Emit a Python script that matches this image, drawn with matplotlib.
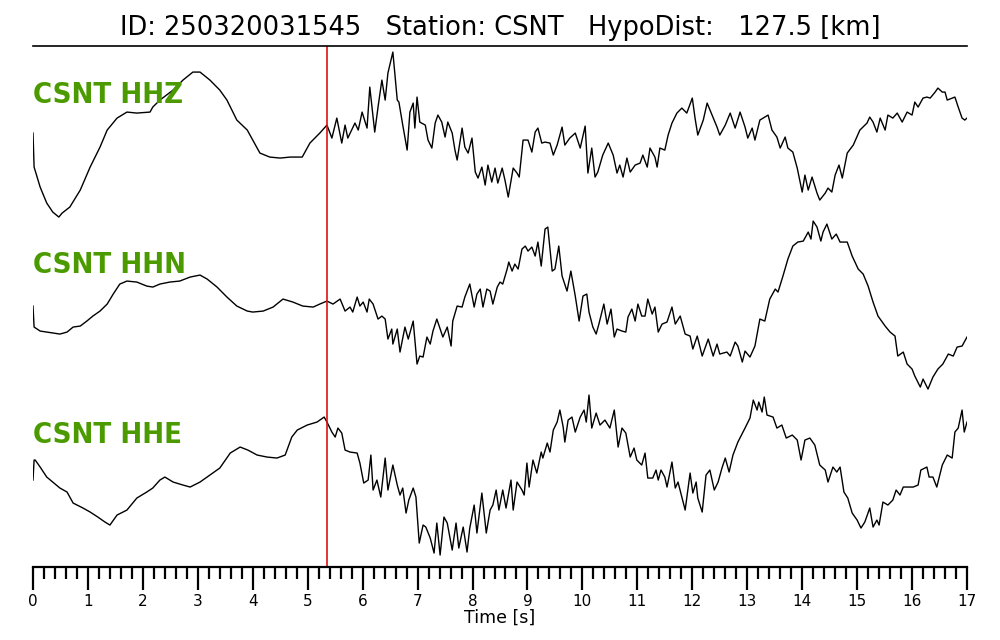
"""Plot three-component waveform of station CSNT with P pick."""

import matplotlib
matplotlib.use("Agg")
import matplotlib.pyplot as plt
from matplotlib.ticker import MultipleLocator

event_id = "250320031545"
station = "CSNT"
hypo_dist = 127.5
p_pick = 5.35  # seconds
channels = ["HHZ", "HHN", "HHE"]

# HHZ trace (time [s], amplitude [arb. units])
z_time = [0.00, 0.02, 0.13, 0.25, 0.36, 0.47, 0.53, 0.67, 0.86, 1.04, 1.22, 1.35, 1.53, 1.71,
          1.89, 2.13, 2.18, 2.31, 2.55, 2.73, 2.91, 3.04, 3.22, 3.40, 3.53, 3.71, 3.90, 4.00,
          4.13, 4.31, 4.50, 4.68, 4.90, 5.04, 5.22, 5.35, 5.44, 5.53, 5.62, 5.68, 5.73, 5.86,
          5.92, 5.99, 6.08, 6.13, 6.22, 6.28, 6.35, 6.41, 6.46, 6.55, 6.63, 6.66, 6.73, 6.81,
          6.86, 6.92, 6.95, 6.99, 7.04, 7.14, 7.19, 7.26, 7.32, 7.37, 7.44, 7.50, 7.55, 7.63,
          7.68, 7.72, 7.81, 7.86, 7.92, 7.99, 8.05, 8.10, 8.17, 8.23, 8.28, 8.35, 8.41, 8.46,
          8.54, 8.59, 8.65, 8.74, 8.81, 8.85, 8.92, 9.01, 9.08, 9.14, 9.19, 9.26, 9.32, 9.41,
          9.47, 9.54, 9.63, 9.68, 9.77, 9.87, 9.96, 10.05, 10.10, 10.17, 10.23, 10.28, 10.37,
          10.47, 10.56, 10.63, 10.68, 10.74, 10.81, 10.87, 10.96, 11.05, 11.10, 11.18, 11.23,
          11.32, 11.36, 11.41, 11.50, 11.56, 11.63, 11.72, 11.81, 11.90, 12.00, 12.05, 12.10,
          12.20, 12.27, 12.36, 12.45, 12.50, 12.60, 12.69, 12.78, 12.87, 12.96, 13.01, 13.09,
          13.14, 13.23, 13.32, 13.38, 13.45, 13.54, 13.60, 13.69, 13.74, 13.83, 13.91, 14.00,
          14.05, 14.11, 14.18, 14.27, 14.32, 14.42, 14.47, 14.54, 14.60, 14.67, 14.73, 14.82,
          14.93, 15.05, 15.18, 15.23, 15.29, 15.36, 15.42, 15.51, 15.56, 15.65, 15.73, 15.82,
          15.91, 16.00, 16.05, 16.11, 16.20, 16.27, 16.33, 16.42, 16.47, 16.55, 16.60, 16.64,
          16.73, 16.78, 16.84, 16.91, 16.96, 17.00]
z_amp = [2, -32, -52, -68, -77, -82, -78, -72, -55, -32, -12, 5, 17, 23,
         22, 23, 28, 35, 45, 55, 63, 63, 55, 45, 35, 15, 5, -5,
         -18, -22, -23, -22, -22, -8, 2, 10, -3, 17, -8, 10, -3, 12,
         5, 23, 7, 48, 3, 28, 55, 35, 62, 83, 35, 33, 10, -15,
         23, 32, 7, 38, 13, 10, -5, -13, 12, 20, 13, -2, 13, 2,
         -15, -25, 7, -12, -18, -3, -37, -43, -32, -50, -30, -47, -33, -48,
         -33, -45, -62, -33, -38, -42, -5, -5, -17, 3, 7, -8, -7, -8,
         -20, -10, 8, -10, -3, 2, -13, 9, -38, -13, -42, -37, -20,
         -8, -20, -38, -30, -42, -23, -37, -30, -28, -20, -32, -13,
         -22, -32, -13, -15, 0, 12, 22, 27, 22, 37, 17, 0,
         15, 32, 20, 8, 0, 10, 22, 7, 23, 8, -3, 7,
         -5, 15, 18, 20, 5, -2, -13, -2, -13, -17, -33, -57,
         -40, -55, -42, -58, -65, -58, -53, -57, -40, -30, -43, -18,
         -10, 5, 12, 18, 13, 3, 17, 5, 20, 17, 22, 13,
         23, 20, 33, 28, 37, 38, 37, 43, 47, 43, 43, 35,
         37, 38, 28, 17, 15, 17]

# HHN trace
n_time = [0.00, 0.02, 0.13, 0.25, 0.36, 0.49, 0.62, 0.73, 0.86, 0.98, 1.09, 1.22, 1.35, 1.46,
          1.58, 1.71, 1.89, 2.07, 2.18, 2.31, 2.49, 2.67, 2.86, 3.04, 3.17, 3.35, 3.53, 3.71,
          3.90, 4.00, 4.19, 4.37, 4.55, 4.73, 4.91, 5.10, 5.22, 5.35, 5.46, 5.59, 5.68, 5.77,
          5.82, 5.90, 5.95, 6.01, 6.08, 6.12, 6.19, 6.28, 6.35, 6.41, 6.46, 6.53, 6.55, 6.63,
          6.68, 6.77, 6.83, 6.92, 6.99, 7.04, 7.10, 7.17, 7.23, 7.28, 7.35, 7.41, 7.46, 7.54,
          7.61, 7.64, 7.72, 7.81, 7.86, 7.95, 8.03, 8.08, 8.14, 8.19, 8.26, 8.32, 8.37, 8.45,
          8.50, 8.55, 8.63, 8.66, 8.72, 8.77, 8.83, 8.90, 8.96, 9.01, 9.08, 9.14, 9.19, 9.25,
          9.32, 9.37, 9.45, 9.50, 9.57, 9.63, 9.72, 9.79, 9.87, 9.94, 10.01, 10.08, 10.12,
          10.19, 10.25, 10.30, 10.39, 10.45, 10.52, 10.58, 10.63, 10.72, 10.79, 10.83, 10.90,
          10.96, 11.01, 11.08, 11.14, 11.19, 11.27, 11.32, 11.38, 11.45, 11.54, 11.63, 11.69,
          11.78, 11.87, 11.96, 12.01, 12.09, 12.18, 12.29, 12.38, 12.45, 12.50, 12.63, 12.69,
          12.78, 12.83, 12.91, 12.96, 13.05, 13.14, 13.23, 13.32, 13.41, 13.51, 13.56, 13.65,
          13.74, 13.83, 13.92, 14.02, 14.11, 14.16, 14.20, 14.27, 14.34, 14.38, 14.45, 14.54,
          14.62, 14.69, 14.82, 14.91, 15.02, 15.11, 15.20, 15.29, 15.38, 15.51, 15.60, 15.69,
          15.74, 15.84, 15.91, 16.00, 16.05, 16.15, 16.20, 16.29, 16.38, 16.47, 16.56, 16.66,
          16.75, 16.82, 16.91, 17.00]
n_amp = [-1, -22, -26, -27, -28, -29, -27, -22, -21, -16, -11, -6, 1, 11,
         21, 24, 23, 19, 18, 21, 23, 24, 28, 30, 26, 18, 8, -1,
         -6, -7, -6, -2, 6, 3, -1, -2, 1, 4, 1, 6, -6, -2,
         -7, 8, -1, 3, -7, 6, 1, -14, -11, -14, -34, -24, -39, -24,
         -47, -22, -34, -16, -59, -51, -52, -32, -39, -26, -14, -24, -32, -22,
         -41, -16, -1, -2, 8, 21, -2, 11, 16, -2, 16, 14, 1, 18,
         23, 21, 36, 43, 34, 41, 36, 56, 59, 54, 58, 49, 63, 39,
         76, 78, 34, 36, 59, 29, 14, 34, 9, -16, 9, 11, -7,
         -22, -29, -19, 1, -19, -4, -32, -24, -26, -27, -12, -4,
         -16, 1, -11, -11, 6, -9, -2, -27, -19, -17, -2, -19,
         -11, -29, -31, -44, -31, -51, -34, -51, -39, -49, -47, -51,
         -37, -41, -57, -46, -52, -41, -14, -16, 6, 16, 13, 29,
         46, 59, 63, 64, 73, 66, 84, 78, 64, 73, 81, 66,
         71, 63, 63, 49, 36, 31, 19, 3, -11, -21, -27, -31,
         -51, -47, -59, -64, -71, -82, -74, -84, -72, -64, -59, -49,
         -51, -42, -41, -32]

# HHE trace
e_time = [0.00, 0.02, 0.04, 0.13, 0.25, 0.36, 0.49, 0.62, 0.73, 0.91, 1.04, 1.18, 1.31, 1.40,
          1.53, 1.71, 1.89, 2.07, 2.18, 2.31, 2.40, 2.55, 2.73, 2.86, 3.04, 3.22, 3.40, 3.59,
          3.77, 3.91, 4.08, 4.26, 4.44, 4.59, 4.71, 4.81, 4.99, 5.17, 5.30, 5.35, 5.44, 5.50,
          5.55, 5.62, 5.68, 5.77, 5.90, 5.95, 6.02, 6.10, 6.15, 6.19, 6.26, 6.33, 6.41, 6.46,
          6.55, 6.63, 6.68, 6.73, 6.79, 6.84, 6.92, 6.97, 7.03, 7.10, 7.15, 7.23, 7.30, 7.35,
          7.41, 7.48, 7.54, 7.63, 7.70, 7.75, 7.83, 7.90, 7.95, 8.03, 8.08, 8.17, 8.25, 8.32,
          8.37, 8.43, 8.48, 8.55, 8.61, 8.70, 8.74, 8.81, 8.90, 8.94, 8.99, 9.03, 9.10, 9.17,
          9.25, 9.28, 9.36, 9.41, 9.47, 9.54, 9.59, 9.65, 9.68, 9.74, 9.81, 9.87, 9.96, 10.03,
          10.07, 10.12, 10.17, 10.25, 10.32, 10.41, 10.50, 10.58, 10.65, 10.72, 10.79, 10.87,
          10.94, 10.99, 11.08, 11.14, 11.19, 11.28, 11.34, 11.38, 11.43, 11.50, 11.54, 11.63,
          11.69, 11.74, 11.87, 11.96, 12.01, 12.07, 12.10, 12.18, 12.25, 12.32, 12.40, 12.47,
          12.54, 12.60, 12.67, 12.74, 12.83, 12.96, 13.05, 13.11, 13.18, 13.21, 13.27, 13.31,
          13.36, 13.47, 13.54, 13.63, 13.71, 13.82, 13.91, 13.98, 14.05, 14.14, 14.23, 14.32,
          14.42, 14.47, 14.56, 14.63, 14.69, 14.76, 14.83, 14.91, 15.00, 15.07, 15.14, 15.23,
          15.29, 15.36, 15.40, 15.47, 15.56, 15.65, 15.71, 15.78, 15.84, 15.93, 16.02, 16.11,
          16.16, 16.27, 16.31, 16.38, 16.45, 16.55, 16.64, 16.73, 16.78, 16.84, 16.91, 16.95,
          17.00]
e_amp = [-5, 15, 15, 8, -2, -7, -13, -17, -28, -33, -37, -42, -47, -50,
         -40, -35, -23, -17, -13, -5, -2, -7, -10, -12, -7, 0, 7, 22,
         28, 25, 20, 18, 17, 20, 38, 45, 50, 53, 58, 53, 43, 38,
         47, 42, 25, 23, 22, 12, -8, -5, 20, -15, -5, -22, 17, -15,
         10, -10, -20, -13, -38, -25, -13, -22, -68, -50, -52, -63, -78, -48,
         -80, -42, -48, -75, -48, -73, -52, -77, -53, -30, -58, -18, -58, -35,
         -30, -15, -35, -15, -33, -5, -35, -7, -15, -20, 12, -12, 15, 2,
         23, 17, 32, 23, 45, 53, 65, 48, 33, 55, 58, 43, 58, 65,
         53, 80, 47, 62, 50, 55, 47, 65, 28, 47, 42, 18,
         27, 15, 10, 22, -3, -3, 5, -5, 5, -2, -12, 13,
         -13, -7, -35, 2, -18, -7, -23, -37, 0, 5, -15, -7,
         7, 17, 3, 20, 33, 47, 57, 75, 65, 73, 63, 78,
         60, 58, 47, 50, 37, 40, 35, 15, 35, 37, 30, 10,
         5, -7, 8, 3, 8, -17, -23, -38, -45, -53, -47, -33,
         -52, -45, -50, -27, -30, -25, -15, -20, -12, -12, -12, -10,
         5, 8, -2, -2, -12, 10, 20, 17, 43, 47, 65, 43,
         53]

traces = [(z_time, z_amp), (n_time, n_amp), (e_time, e_amp)]
spacing = 170


def plot_waveforms():
    fig = plt.figure(figsize=(10, 6.4), dpi=100)
    ax = fig.add_axes([0.033, 0.114, 0.934, 0.814])

    for i, (t, a) in enumerate(traces):
        offset = -spacing * (i + 1)
        ax.plot(t, [v + offset for v in a], color="black", lw=1.0)
        ax.text(0.0, offset + 32, f"{station} {channels[i]}", color="#4b9b00",
                fontsize=21, fontweight="bold", fontstretch="condensed",
                va="baseline", ha="left")

    ax.axvline(p_pick, color="#e01010", lw=1.2)

    ax.set_xlim(0, 17)
    ax.set_ylim(-spacing * 3 - 92, -spacing + 89)
    ax.xaxis.set_major_locator(MultipleLocator(1))
    ax.xaxis.set_minor_locator(MultipleLocator(0.2))
    ax.tick_params(axis="x", which="major", direction="out", length=16.5, width=1.6,
                   labelsize=11, pad=3)
    ax.tick_params(axis="x", which="minor", direction="out", length=8.5, width=1.6)
    ax.set_yticks([])
    for side in ["left", "right"]:
        ax.spines[side].set_visible(False)
    ax.spines["bottom"].set_linewidth(1.6)
    ax.spines["top"].set_linewidth(1.2)
    ax.set_xlabel("Time [s]", fontsize=12.5, labelpad=0)
    ax.set_title(f"ID: {event_id}   Station: {station}   HypoDist:   {hypo_dist} [km]",
                 fontsize=18.5, pad=8)

    fig.savefig("out.png", dpi=100)


if __name__ == "__main__":
    plot_waveforms()
